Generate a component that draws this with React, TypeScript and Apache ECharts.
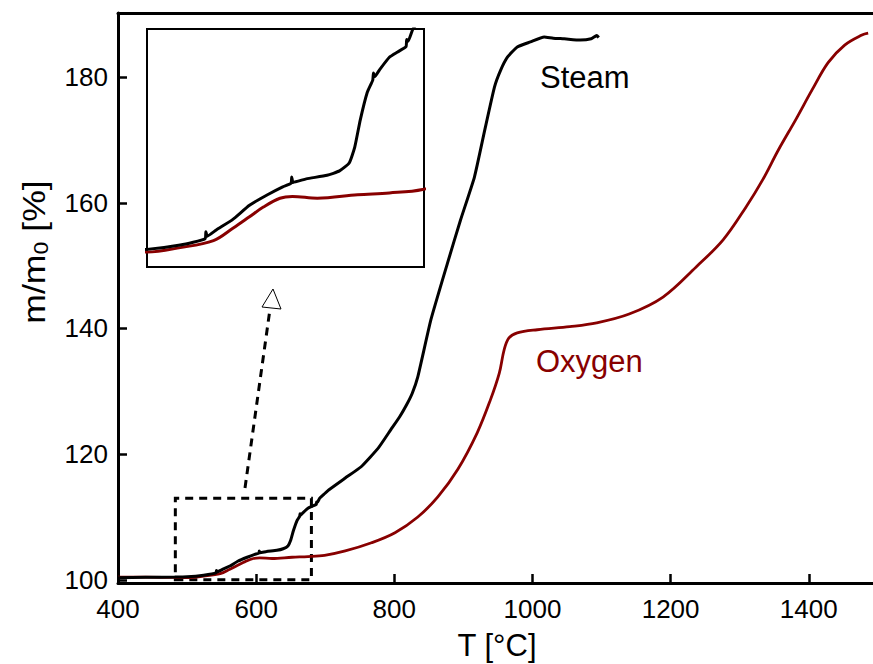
import React, { useEffect, useRef } from "react";
import * as echarts from "echarts";

// Steam (black) curve: temperature [°C] and relative mass [%]
const steamT = [400, 440, 482, 500, 524, 542, 542.5, 543.5, 550, 562, 574, 587, 598, 604, 604.5, 605.5, 615, 630, 639, 646, 650, 654, 659, 663, 663.5, 664.5, 668, 675, 681, 687, 687.5, 688.5, 692, 698, 705, 729, 752, 777, 795, 808, 818, 826, 834, 853, 877, 896, 916, 931, 945, 954, 964, 978, 997, 1017, 1030, 1046, 1069, 1085, 1093, 1096];
const steamV = [100.35, 100.4, 100.45, 100.5, 100.75, 101.1, 101.5, 101.25, 101.6, 102.2, 103.0, 103.6, 104.05, 104.25, 104.6, 104.3, 104.5, 104.7, 104.95, 105.4, 106.3, 107.85, 109.4, 110.1, 110.5, 110.3, 110.7, 111.4, 111.7, 112.0, 112.4, 112.3, 113.0, 113.6, 114.3, 116.2, 118.0, 121.0, 123.9, 126.0, 127.9, 129.7, 132.3, 141.4, 150.4, 157.3, 164.1, 171.6, 178.4, 181.1, 183.2, 184.8, 185.6, 186.4, 186.2, 186.1, 185.9, 186.1, 186.6, 186.3];

// Oxygen (dark red) curve
const oxygenT = [400, 440, 482, 500, 524, 548, 562, 574, 584, 596, 605, 623, 652, 675, 699, 729, 767, 801, 834, 863, 892, 920, 939, 952, 959, 966, 978, 1007, 1054, 1093, 1140, 1189, 1237, 1276, 1309, 1333, 1356, 1381, 1405, 1428, 1452, 1477, 1486];
const oxygenV = [100.45, 100.45, 100.4, 100.35, 100.6, 101.0, 101.7, 102.35, 102.9, 103.4, 103.5, 103.4, 103.6, 103.7, 103.9, 104.6, 105.9, 107.5, 110.0, 113.2, 117.6, 123.4, 128.6, 132.9, 136.6, 138.5, 139.3, 139.8, 140.3, 140.9, 142.3, 145.0, 149.8, 154.1, 159.3, 163.6, 168.4, 173.2, 178.0, 182.3, 185.1, 186.7, 187.0];

// Axis ticks
const xTicks = [400, 600, 800, 1000, 1200, 1400];
const yTicks = [100, 120, 140, 160, 180];
const insetYMajor = [100, 102, 104, 106, 108, 110, 112];
const insetYMinor = [101, 103, 105, 107, 109, 111];
const insetXMajor = [600];

// Zoomed region (dashed box) and labels
const zoomBoxT = [483, 680];
const zoomBoxV = [100, 113];
const steamLabel = "Steam";
const oxygenLabel = "Oxygen";

const FONT = "'Liberation Sans', Arial, sans-serif";
const RED = "#880000";

export default function App() {
  const ref = useRef<HTMLDivElement>(null);
  useEffect(() => {
    if (!ref.current) return;
    const chart = echarts.init(ref.current, null, { renderer: "svg" });
    const steam = steamT.map((t, i) => [t, steamV[i]]);
    const oxygen = oxygenT.map((t, i) => [t, oxygenV[i]]);
    const plain = (v: number) => String(v);
    // y-axis title pieces: "m/m" + subscript "0" + " [%]"
    const tf = 31, sf = 20;
    const w1 = 1.944 * tf, w2 = 0.556 * sf, w3 = 1.723 * tf;
    const x0 = -(w1 + w2 + w3) / 2;
    const option: any = {
      animation: false,
      backgroundColor: "#fff",
      textStyle: { fontFamily: FONT },
      grid: [
        { left: 118, top: 13, right: -5, bottom: 81, show: false },
        {
          left: 147, top: 29, width: 277, height: 238, show: true,
          backgroundColor: "#fff", borderColor: "#000", borderWidth: 2, z: 5,
        },
      ],
      xAxis: [
        {
          type: "value", gridIndex: 0, min: 400, max: 1493,
          axisLine: { show: true, onZero: false, lineStyle: { color: "#000", width: 3 } },
          axisTick: { show: true, inside: true, length: 9, customValues: xTicks, lineStyle: { color: "#000", width: 2.5 } },
          axisLabel: { customValues: xTicks, formatter: plain, color: "#000", fontSize: 26, fontFamily: FONT, margin: 13 },
          splitLine: { show: false },
        },
        {
          type: "value", gridIndex: 0, min: 400, max: 1493, position: "top",
          axisLine: { show: true, onZero: false, lineStyle: { color: "#000", width: 3 } },
          axisTick: { show: false }, axisLabel: { show: false }, splitLine: { show: false },
        },
        {
          type: "value", gridIndex: 1, min: 500, max: 700, interval: 25,
          axisLine: { show: false },
          axisTick: { show: true, inside: true, length: 5, lineStyle: { color: "#000", width: 2 } },
          axisLabel: { show: false }, splitLine: { show: false },
        },
        {
          type: "value", gridIndex: 1, min: 500, max: 700,
          axisLine: { show: false },
          axisTick: { show: true, inside: true, length: 10, customValues: insetXMajor, lineStyle: { color: "#000", width: 2 } },
          axisLabel: { show: false }, splitLine: { show: false },
        },
      ],
      yAxis: [
        {
          type: "value", gridIndex: 0, min: 99.5, max: 190.2,
          axisLine: { show: true, onZero: false, lineStyle: { color: "#000", width: 3 } },
          axisTick: { show: true, inside: true, length: 9, customValues: yTicks, lineStyle: { color: "#000", width: 2.5 } },
          axisLabel: { customValues: yTicks, formatter: plain, color: "#000", fontSize: 26, fontFamily: FONT, margin: 10 },
          splitLine: { show: false },
        },
        {
          type: "value", gridIndex: 1, min: 99.5, max: 113,
          axisLine: { show: false },
          axisTick: { show: true, inside: true, length: 9, customValues: insetYMajor, lineStyle: { color: "#000", width: 2 } },
          axisLabel: { show: false }, splitLine: { show: false },
        },
        {
          type: "value", gridIndex: 1, min: 99.5, max: 113,
          axisLine: { show: false },
          axisTick: { show: true, inside: true, length: 5, customValues: insetYMinor, lineStyle: { color: "#000", width: 2 } },
          axisLabel: { show: false }, splitLine: { show: false },
        },
      ],
      series: [
        {
          type: "line", xAxisIndex: 0, yAxisIndex: 0, data: oxygen, showSymbol: false,
          smooth: 0.35, lineStyle: { color: RED, width: 2.8 }, z: 2,
        },
        {
          type: "line", xAxisIndex: 0, yAxisIndex: 0, data: steam, showSymbol: false,
          smooth: 0.15, lineStyle: { color: "#000", width: 3 }, z: 3,
          markArea: {
            silent: true,
            itemStyle: { color: "rgba(0,0,0,0)", borderColor: "#000", borderWidth: 3, borderType: [8, 6] },
            data: [[{ coord: [zoomBoxT[0], zoomBoxV[0]] }, { coord: [zoomBoxT[1], zoomBoxV[1]] }]],
          },
        },
        {
          type: "line", xAxisIndex: 2, yAxisIndex: 1, data: oxygen, showSymbol: false,
          smooth: 0.35, clip: true, lineStyle: { color: RED, width: 3 }, z: 6,
        },
        {
          type: "line", xAxisIndex: 2, yAxisIndex: 1, data: steam, showSymbol: false,
          smooth: 0.15, clip: true, lineStyle: { color: "#000", width: 3 }, z: 7,
        },
      ],
      graphic: [
        {
          type: "text", x: 540, y: 77, z: 10,
          style: { text: steamLabel, fill: "#000", fontSize: 31, fontFamily: FONT, align: "left", verticalAlign: "middle" },
        },
        {
          type: "text", x: 536, y: 361, z: 10,
          style: { text: oxygenLabel, fill: RED, fontSize: 31, fontFamily: FONT, align: "left", verticalAlign: "middle" },
        },
        {
          type: "text", x: 497, y: 645, z: 10,
          style: { text: "T [°C]", fill: "#000", fontSize: 31, fontFamily: FONT, align: "center", verticalAlign: "middle" },
        },
        {
          type: "group", x: 34, y: 252, rotation: Math.PI / 2, scaleX: 1.15, z: 10,
          children: [
            {
              type: "text", x: x0, y: 0, z: 10,
              style: { text: "m/m", fill: "#000", fontSize: tf, fontFamily: FONT, align: "left", verticalAlign: "middle" },
            },
            {
              type: "text", x: x0 + w1, y: 7, z: 10,
              style: { text: "0", fill: "#000", fontSize: sf, fontFamily: FONT, align: "left", verticalAlign: "middle" },
            },
            {
              type: "text", x: x0 + w1 + w2, y: 0, z: 10,
              style: { text: " [%]", fill: "#000", fontSize: tf, fontFamily: FONT, align: "left", verticalAlign: "middle" },
            },
          ],
        },
        {
          type: "line", z: 10,
          shape: { x1: 245, y1: 488, x2: 270, y2: 309 },
          style: { stroke: "#000", lineWidth: 3, lineDash: [8, 6] },
        },
        {
          type: "polygon", z: 11,
          shape: { points: [[273, 289], [262, 307], [281, 309]] },
          style: { fill: "#fff", stroke: "#000", lineWidth: 1 },
        },
      ],
    };
    chart.setOption(option);
    return () => chart.dispose();
  }, []);
  return (
    <div
      ref={ref}
      style={{ position: "absolute", left: 0, top: 0, width: 873, height: 664 }}
    />
  );
}
